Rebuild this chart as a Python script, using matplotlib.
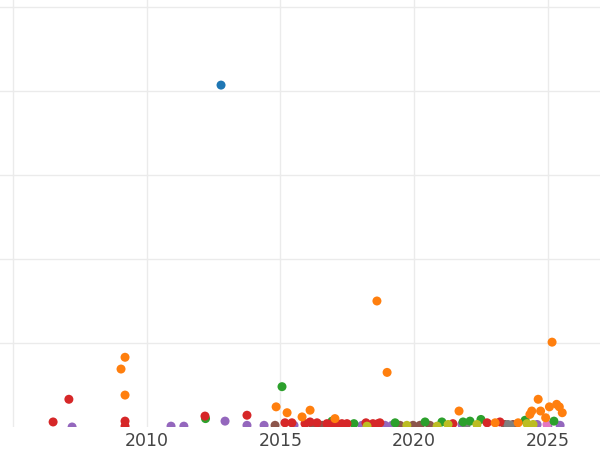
import matplotlib
matplotlib.use("Agg")
import matplotlib.pyplot as plt

# year, value per colour group (value in grid units)
blue_x = [2012.78]
blue_y = [4.07]

orange_x = [2009.19, 2009.04, 2009.19, 2014.84, 2015.25, 2015.81, 2016.11, 2017.04,
            2018.61, 2018.99, 2021.68, 2023.03, 2023.89, 2024.64, 2024.40, 2024.33,
            2024.73, 2024.92, 2025.06, 2025.33, 2025.43, 2025.54, 2025.16]
orange_y = [0.83, 0.69, 0.38, 0.24, 0.17, 0.12, 0.20, 0.10,
            1.50, 0.65, 0.19, 0.05, 0.05, 0.33, 0.19, 0.15,
            0.19, 0.11, 0.24, 0.27, 0.24, 0.17, 1.01]

green_x = [2012.20, 2015.06, 2016.93, 2017.75, 2019.29, 2020.41, 2021.04, 2021.83,
           2022.09, 2022.50, 2024.15, 2025.23]
green_y = [0.10, 0.48, 0.07, 0.04, 0.05, 0.06, 0.06, 0.06,
           0.07, 0.09, 0.08, 0.07]

red_x = [2006.50, 2007.09, 2009.19, 2009.19, 2012.18, 2013.75, 2015.17, 2015.43,
         2015.92, 2016.11, 2016.37, 2016.74, 2016.93, 2017.12, 2017.30, 2017.49,
         2018.20, 2018.46, 2018.65, 2018.72, 2021.45, 2022.73, 2023.21]
red_y = [0.06, 0.33, 0.07, 0.01, 0.13, 0.14, 0.05, 0.05,
         0.04, 0.06, 0.05, 0.04, 0.04, 0.04, 0.04, 0.04,
         0.05, 0.04, 0.04, 0.05, 0.04, 0.05, 0.06]

purple_x = [2007.21, 2010.91, 2011.39, 2012.93, 2013.75, 2014.39, 2015.51, 2018.05,
            2018.91, 2019.17, 2021.79, 2024.60, 2025.00, 2025.46]
purple_y = [0.00, 0.01, 0.01, 0.07, 0.02, 0.02, 0.02, 0.02,
            0.02, 0.02, 0.03, 0.03, 0.01, 0.02]

brown_x = [2014.80, 2016.22, 2016.56, 2019.47, 2019.96, 2020.22, 2020.59, 2023.40, 2023.70]
brown_y = [0.02, 0.01, 0.02, 0.02, 0.02, 0.02, 0.02, 0.03, 0.03]

gray_x = [2021.94, 2023.51, 2023.60]
gray_y = [0.02, 0.03, 0.02]

olive_x = [2018.24, 2019.73, 2020.86, 2021.27, 2022.35, 2024.22, 2024.30, 2024.45]
olive_y = [0.01, 0.02, 0.01, 0.03, 0.03, 0.04, 0.02, 0.03]

pink_x = [2024.97]
pink_y = [0.03]

groups = [
    (purple_x, purple_y, '#9467bd'),
    (brown_x, brown_y, '#8c564b'),
    (gray_x, gray_y, '#7f7f7f'),
    (pink_x, pink_y, '#e377c2'),
    (green_x, green_y, '#2ca02c'),
    (red_x, red_y, '#d62728'),
    (olive_x, olive_y, '#bcbd22'),
    (orange_x, orange_y, '#ff7f0e'),
    (blue_x, blue_y, '#1f77b4'),
]

fig = plt.figure(figsize=(6, 4.5), dpi=100)
ax = fig.add_axes([0, 23 / 450, 1, 427 / 450])

for xs, ys, col in groups:
    ax.scatter(xs, ys, s=42, color=col, edgecolors='none', zorder=3)

ax.set_xlim(2004.514, 2026.952)
ax.set_ylim(0, 5.083)
ax.set_xticks([2005, 2010, 2015, 2020, 2025])
ax.set_xticklabels(['', '2010', '2015', '2020', '2025'])
ax.set_yticks([1, 2, 3, 4, 5])
ax.set_yticklabels([])
ax.grid(True, color='#ebebeb', linewidth=1.0)
ax.set_axisbelow(True)
ax.tick_params(length=0, pad=3.5, labelsize=12.5, labelcolor='#444444')
for s in ax.spines.values():
    s.set_visible(False)

fig.savefig('out.png', dpi=100)
